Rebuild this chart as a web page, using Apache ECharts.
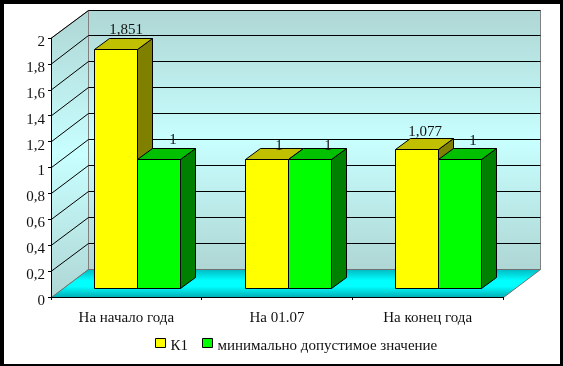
<!DOCTYPE html>
<html>
<head>
<meta charset="utf-8">
<style>
  html, body { margin: 0; padding: 0; background: #fff; }
  #chart { width: 563px; height: 366px; }
</style>
<script src="https://cdn.jsdelivr.net/npm/echarts@6/dist/echarts.min.js"></script>
</head>
<body>
<div id="chart"></div>
<script>
const categories = ['На начало года', 'На 01.07', 'На конец года'];
const k1Values = [1.851, 1, 1.077];
const minValues = [1, 1, 1];
const yTicks = [0.2, 0.4, 0.6, 0.8, 1, 1.2, 1.4, 1.6, 1.8, 2];
const k1Name = 'К1';
const minName = 'минимально допустимое значение';

// hand placed data labels in the original, offset from the top centre of the bar
const k1LabelNudge = [[10, -19], [12, -13], [8, -17]];
const minLabelNudge = [[14, -19], [18, -13], [13, -18]];

const FONT = '"Liberation Serif", "Times New Roman", serif';
const FONT_SIZE = 15;
// fake 3d: how far the back wall and the bars are pushed
const WALL_DX = 36.5, WALL_DY = -28;
const BAR_START_DX = 11.1, BAR_START_DY = -8.7;
const BAR_DX = 15, BAR_DY = -11;

const crisp = (v) => Math.floor(v) + 0.5;
const crispY = (v) => Math.round(v) + 0.5;
const fmt = (v) => String(v).replace('.', ',');

const vGrad = (stops) => new echarts.graphic.LinearGradient(0, 0, 0, 1,
  stops.map((s) => ({ offset: s[0], color: s[1] })));
const wallFill = () => vGrad([[0, '#aed6d4'], [0.5, '#c8ffff'], [1, '#aed6d4']]);
const floorFill = () => vGrad([[0, '#00b8c0'], [0.4, '#00ffff'], [0.6, '#00ffff'], [1, '#00a8b0']]);

function renderWalls(params, api) {
  const band = api.size([1, 0])[0];
  const o = api.coord([0, 0]);
  const x0 = crisp(o[0] - band / 2);
  const x1 = crisp(x0 + band * 3);
  const y0 = crisp(o[1]);
  const yTop = api.coord([0, 2])[1];
  const bx0 = crisp(x0 + WALL_DX), bx1 = crisp(x1 + WALL_DX);
  const by0 = crisp(y0 + WALL_DY), byTop = crisp(yTop + WALL_DY);
  const children = [
    { type: 'polygon', shape: { points: [[x0, yTop], [bx0, byTop], [bx0, by0], [x0, y0]] },
      style: { fill: wallFill(), stroke: '#808080', lineWidth: 1 } },
    { type: 'rect', shape: { x: bx0, y: byTop, width: bx1 - bx0, height: by0 - byTop },
      style: { fill: wallFill(), stroke: '#808080', lineWidth: 1 } },
    { type: 'polygon', shape: { points: [[x0, y0], [bx0, by0], [bx1, by0], [x1, y0]] },
      style: { fill: floorFill(), stroke: '#707070', lineWidth: 1 } }
  ];
  yTicks.forEach((t) => {
    const y = api.coord([0, t])[1];
    const by = crisp(y + WALL_DY);
    children.push({
      type: 'polyline',
      shape: { points: [[x0, y], [bx0, by], [bx1, by]] },
      style: { fill: null, stroke: '#000', lineWidth: 1 }
    });
  });
  return { type: 'group', children: children };
}

function barRenderer(slot, front, side, top, nudge) {
  return function (params, api) {
    const i = api.value(0), v = api.value(1);
    const band = api.size([1, 0])[0];
    const barW = band / 3.5;
    const c = api.coord([i, 0]);
    const x0 = crisp(c[0] + BAR_START_DX - barW + slot * barW);
    const x1 = crisp(c[0] + BAR_START_DX + slot * barW);
    const yb = crispY(c[1] + BAR_START_DY);
    const yt = crispY(api.coord([i, v])[1] + BAR_START_DY);
    const line = { stroke: '#000', lineWidth: 1, lineJoin: 'miter' };
    return {
      type: 'group',
      children: [
        { type: 'polygon', shape: { points: [[x1, yt], [x1 + BAR_DX, yt + BAR_DY], [x1 + BAR_DX, yb + BAR_DY], [x1, yb]] },
          style: Object.assign({ fill: side }, line) },
        { type: 'polygon', shape: { points: [[x0, yt], [x0 + BAR_DX, yt + BAR_DY], [x1 + BAR_DX, yt + BAR_DY], [x1, yt]] },
          style: Object.assign({ fill: top }, line) },
        { type: 'rect', shape: { x: x0, y: yt, width: x1 - x0, height: yb - yt },
          style: Object.assign({ fill: front }, line) },
        { type: 'text', z2: 100,
          style: {
            text: fmt(v),
            x: (x0 + x1) / 2 + nudge[i][0],
            y: yt + nudge[i][1],
            align: 'center', verticalAlign: 'middle',
            font: FONT_SIZE + 'px ' + FONT, fill: '#111'
          } }
      ]
    };
  };
}

const chart = echarts.init(document.getElementById('chart'), null, { renderer: 'canvas' });
chart.setOption({
  animation: false,
  backgroundColor: '#fff',
  grid: { left: 51, top: 38, width: 452, height: 259 },
  legend: {
    data: [k1Name, minName],
    left: 155, top: 338, padding: 0,
    itemWidth: 10, itemHeight: 9, itemGap: 14,
    icon: 'rect',
    itemStyle: { borderColor: '#000', borderWidth: 1 },
    formatter: (name) => '{t|' + name + '}',
    textStyle: {
      rich: { t: { fontFamily: FONT, fontSize: FONT_SIZE, color: '#111', padding: [6, 0, 0, 0] } }
    }
  },
  xAxis: {
    type: 'category',
    data: categories,
    z: 5,
    axisLine: { lineStyle: { color: '#000', width: 1 } },
    axisTick: { show: true, length: 3, alignWithLabel: false, lineStyle: { color: '#000' } },
    axisLabel: { margin: 14, fontFamily: FONT, fontSize: FONT_SIZE, color: '#111', interval: 0 }
  },
  yAxis: {
    type: 'value',
    min: 0, max: 2, interval: 0.2,
    z: 5,
    splitLine: { show: false },
    axisLine: { show: true, lineStyle: { color: '#000', width: 1 } },
    axisTick: { show: true, length: 3, lineStyle: { color: '#000' } },
    axisLabel: { margin: 6, fontFamily: FONT, fontSize: FONT_SIZE, color: '#111', verticalAlign: 'top', lineHeight: 8, formatter: fmt }
  },
  graphic: [{
    type: 'rect', silent: true, z: 100,
    shape: { x: 2, y: 2, width: 560, height: 364 },
    style: { fill: null, stroke: '#000', lineWidth: 4 }
  }],
  series: [
    { type: 'custom', name: 'walls', silent: true, data: [[0, 0]], renderItem: renderWalls, encode: { x: 0, y: 1 } },
    { type: 'custom', name: k1Name, itemStyle: { color: '#ffff00' }, encode: { x: 0, y: 1 },
      data: k1Values.map((v, i) => [i, v]),
      renderItem: barRenderer(0, '#ffff00', '#808000', '#c0c000', k1LabelNudge) },
    { type: 'custom', name: minName, itemStyle: { color: '#00ff00' }, encode: { x: 0, y: 1 },
      data: minValues.map((v, i) => [i, v]),
      renderItem: barRenderer(1, '#00ff00', '#008000', '#00c000', minLabelNudge) }
  ]
});
</script>
</body>
</html>
